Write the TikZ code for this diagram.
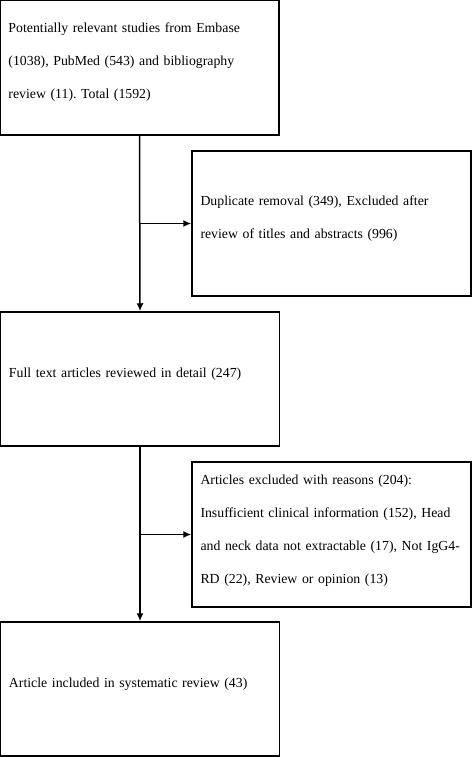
\documentclass[tikz,border=0pt]{standalone}
\usepackage{fontspec}
\setmainfont{Liberation Serif}
\usepackage{tikz}
\usetikzlibrary{arrows,arrows.meta,positioning}
\usetikzlibrary{calc}
\frenchspacing
\tikzset{
  flowbox/.style={draw, line width=1.5pt, rectangle, align=left, text width=262pt,
    inner xsep=8.5pt, inner ysep=0pt, font=\fontsize{13.8}{33}\selectfont},
  flowarrow/.style={-{Latex[length=8pt,width=7pt]}, line width=1.5pt}
}
\newcommand{\lift}{\\[-19.5pt]\mbox{}}

\begin{document}
\begin{tikzpicture}[x=1pt,y=1pt]
\useasboundingbox (0,0) rectangle (473,-758);
\node[flowbox, minimum height=135pt] (search) at (139.5,-67.5) {Potentially relevant studies from Embase\\(1038), PubMed (543) and bibliography\\review (11). Total (1592)\lift};
\node[flowbox, minimum height=145pt] (dup) at (331.5,-223.5) {Duplicate removal (349), Excluded after\\review of titles and abstracts (996)\lift};
\node[flowbox, minimum height=134pt] (full) at (140,-379) {Full text articles reviewed in detail (247)\lift};
\node[flowbox, minimum height=145pt] (excl) at (331.5,-534.5) {Articles excluded with reasons (204):\\Insufficient clinical information (152), Head\\and neck data not extractable (17), Not IgG4-\\RD (22), Review or opinion (13)\\[-21.5pt]\mbox{}};
\node[flowbox, minimum height=134pt] (incl) at (140,-689) {Article included in systematic review (43)\lift};
\coordinate (a) at (search.south |- dup.west);
\coordinate (b) at (full.south |- excl.west);
\draw[flowarrow] (search.south) -- (full.north);
\draw[flowarrow] (a) -- (dup.west);
\draw[flowarrow] (full.south) -- (incl.north);
\draw[flowarrow] (b) -- (excl.west);
\end{tikzpicture}
\end{document}
